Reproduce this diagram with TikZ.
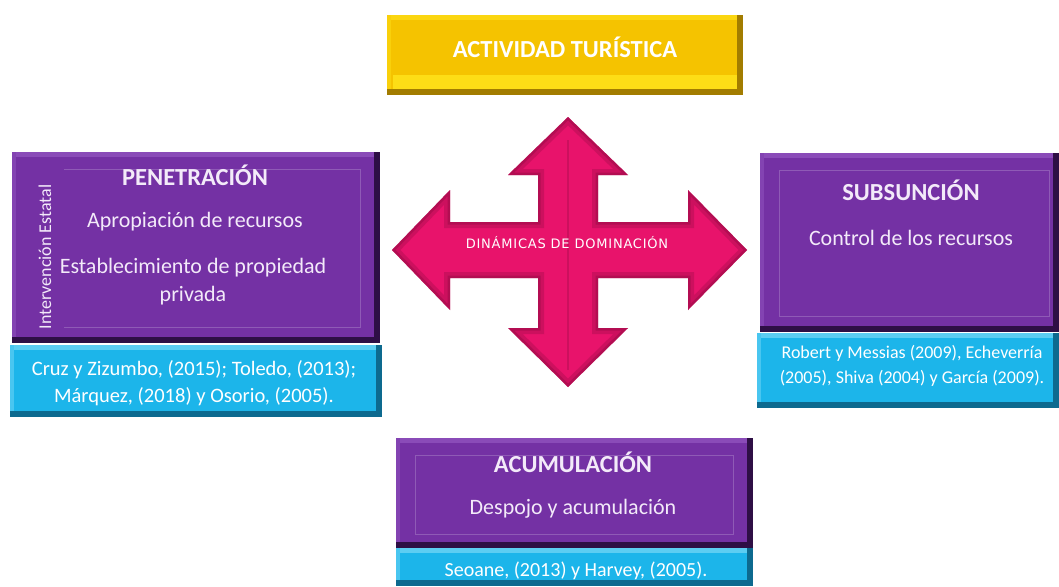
\documentclass[tikz,border=0pt]{standalone}
\usepackage{fontspec}
\setmainfont{Carlito}
\newfontfamily\dinfont[LetterSpace=6]{DejaVu Sans}
\usetikzlibrary{calc}
\definecolor{purp}{HTML}{7431A4}
\definecolor{purpdark}{HTML}{2E0F45}
\definecolor{purplight}{HTML}{8A4BB8}
\definecolor{cyanbox}{HTML}{1CB5EA}
\definecolor{cyandark}{HTML}{0D6A8F}
\definecolor{cyanlight}{HTML}{5CCDF2}
\definecolor{gold}{HTML}{F5C300}
\definecolor{golddark}{HTML}{A27C00}
\definecolor{goldlight}{HTML}{FFE21A}
\definecolor{pinkarrow}{HTML}{E8136B}
\definecolor{pinkdark}{HTML}{8E0A40}
\definecolor{txtpurp}{HTML}{F3EAF9}
\tikzset{
  bevelbox/.style n args={3}{fill=#1, draw=none, inner sep=0pt,
    path picture={
      \fill[#3] (path picture bounding box.north west) rectangle ([yshift=-5pt]path picture bounding box.north east);
      \fill[#3!70!#1] (path picture bounding box.north west) rectangle ([xshift=4pt]path picture bounding box.south west);
      \fill[#2] (path picture bounding box.south west) rectangle ([yshift=6pt]path picture bounding box.south east);
      \fill[#2] (path picture bounding box.south east) rectangle ([xshift=-6pt]path picture bounding box.north east);
    }},
  purplebox/.style={bevelbox={purp}{purpdark}{purplight}},
  cyanbox/.style={bevelbox={cyanbox}{cyandark}{cyanlight}},
  goldbox/.style={bevelbox={gold}{golddark}{goldlight!60!gold}},
  innerframe/.style={white, opacity=0.2, line width=0.8pt},
  titletext/.style={text=txtpurp, font=\bfseries\fontsize{24.5}{28}\selectfont, inner sep=0pt},
  bodytext/.style={text=txtpurp, font=\fontsize{22}{28}\selectfont, inner sep=0pt, align=center},
  citetext/.style={text=white, inner sep=0pt, align=center},
}
\begin{document}
\begin{tikzpicture}[x=1pt,y=-1pt]
\useasboundingbox (0,0) rectangle (1059,586);
\fill[white] (0,0) rectangle (1059,586);

% top yellow box
\node[goldbox, minimum width=356pt, minimum height=80pt] (act) at (565,55) {};
\fill[goldlight!85!gold] ($(act.south west)+(6pt,6pt)$) rectangle ($(act.south east)+(-6pt,20pt)$);
\node[text=white, font=\bfseries\fontsize{24.5}{28}\selectfont, inner sep=0pt] (actt) at (565,47) {ACTIVIDAD TURÍSTICA};

% left box
\node[purplebox, minimum width=368pt, minimum height=191pt] (pen) at (196,247.5) {};
\draw[innerframe] ($(pen.north west)+(52pt,-18pt)$) -- ($(pen.north east)+(-20pt,-18pt)$) -- ($(pen.south east)+(-20pt,16pt)$) -- ($(pen.south west)+(52pt,16pt)$);
\node[cyanbox, minimum width=372pt, minimum height=72pt] (pencite) at (196,381) {};
\node[titletext] (pent) at (195,175) {PENETRACIÓN};
\node[bodytext] (pen1) at (195,222) {Apropiación de recursos};
\node[bodytext] (pen2) at (193,282) {Establecimiento de propiedad\\privada};
\node[text=txtpurp, font=\fontsize{18}{20}\selectfont, rotate=90, inner sep=0pt] (penv) at (45,257) {Intervención Estatal};
\node[citetext, font=\fontsize{20.5}{27}\selectfont] (penc) at (194,383) {Cruz y Zizumbo, (2015); Toledo, (2013);\\Márquez, (2018) y Osorio, (2005).};

% right box
\node[purplebox, minimum width=299pt, minimum height=179pt] (sub) at (909.5,242.5) {};
\draw[innerframe] ($(sub.north west)+(20pt,-18pt)$) rectangle ($(sub.south east)+(-10pt,16pt)$);
\node[cyanbox, minimum width=302pt, minimum height=75pt] (subcite) at (908,370.5) {};
\node[titletext] (subt) at (911,190) {SUBSUNCIÓN};
\node[bodytext] (sub1) at (911,238) {Control de los recursos};
\node[citetext, font=\fontsize{18}{25}\selectfont] (subc) at (912,366) {Robert y Messias (2009), Echeverría\\(2005), Shiva (2004) y García (2009).};

% bottom box
\node[purplebox, minimum width=357pt, minimum height=110pt] (acu) at (574.5,493) {};
\draw[innerframe] ($(acu.north west)+(20pt,-18pt)$) rectangle ($(acu.south east)+(-20pt,14pt)$);
\node[cyanbox, minimum width=357pt, minimum height=38pt] (acucite) at (574.5,567) {};
\node[titletext] (acut) at (573,462) {ACUMULACIÓN};
\node[bodytext] (acu1) at (573,509) {Despojo y acumulación};
\node[citetext, font=\fontsize{20}{22}\selectfont] (acuc) at (576,571) {Seoane, (2013) y Harvey, (2005).};

% cross arrow
\def\crosspath{(568,117) -- (628,175) -- (598,175) -- (598,222) -- (688,222) -- (688,190) -- (747,250) -- (688,310) -- (688,278) -- (598,278) -- (598,328) -- (628,328) -- (568,387) -- (508,328) -- (538,328) -- (538,278) -- (450,278) -- (450,310) -- (392,250) -- (450,190) -- (450,222) -- (538,222) -- (538,175) -- (508,175) -- cycle}
\fill[pinkarrow] \crosspath;
\begin{scope}
  \clip \crosspath;
  \draw[pinkdark, line width=12pt, opacity=0.3, line join=miter] \crosspath;
  \draw[pinkdark, line width=5pt, opacity=0.4, line join=miter] \crosspath;
  \draw[pinkdark, line width=1.2pt, opacity=0.3] (568,140) -- (568,370);
\end{scope}
\node[text=white, font=\dinfont\fontsize{13}{15}\selectfont, inner sep=0pt] (dyn) at (567,243) {DINÁMICAS DE DOMINACIÓN};
\end{tikzpicture}
\end{document}
